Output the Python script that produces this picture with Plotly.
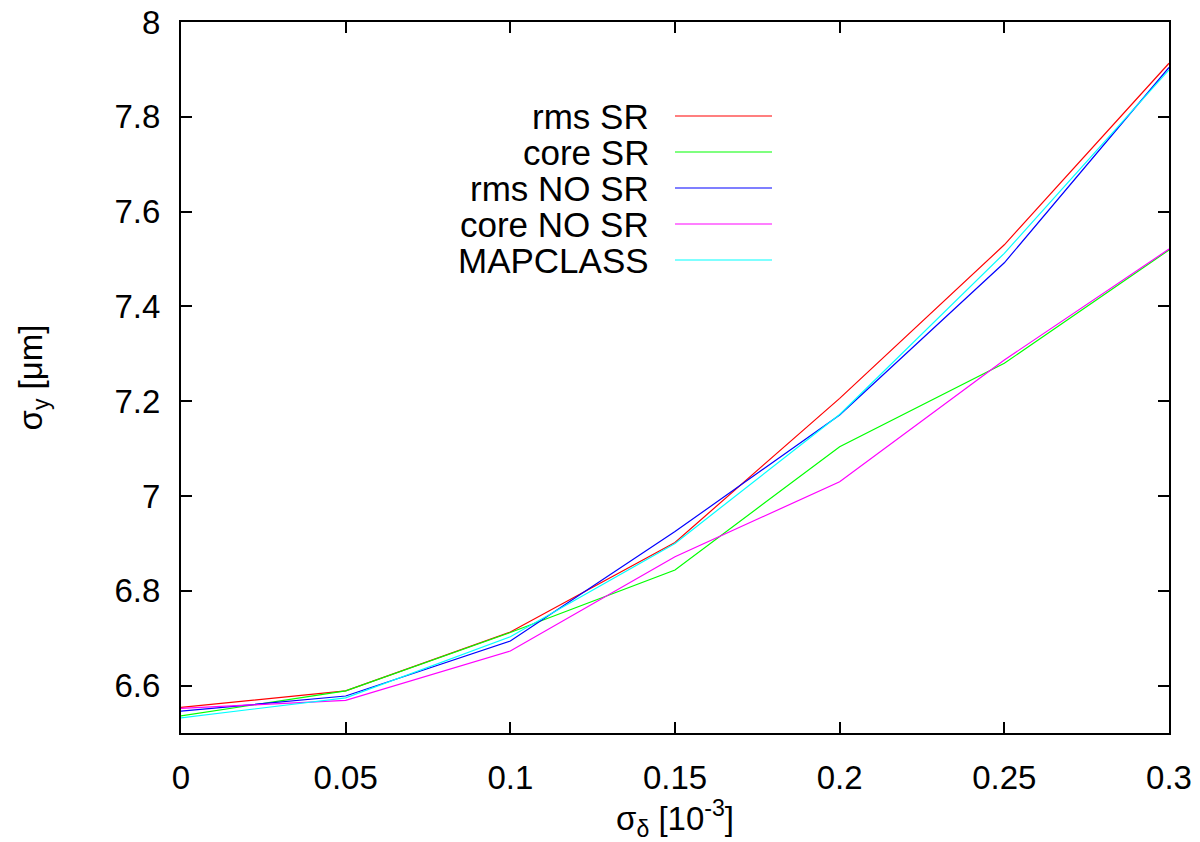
import plotly.graph_objects as go

x = [0, 0.05, 0.1, 0.15, 0.2, 0.25, 0.3]
rms_sr = [6.554, 6.589, 6.713, 6.902, 7.206, 7.530, 7.913]
core_sr = [6.536, 6.589, 6.712, 6.844, 7.104, 7.280, 7.519]
rms_nosr = [6.546, 6.578, 6.694, 6.925, 7.171, 7.492, 7.904]
core_nosr = [6.552, 6.569, 6.673, 6.872, 7.030, 7.287, 7.521]
mapclass = [6.532, 6.574, 6.703, 6.900, 7.172, 7.512, 7.899]

names = ["rms SR", "core SR", "rms NO SR", "core NO SR", "MAPCLASS"]
series = [rms_sr, core_sr, rms_nosr, core_nosr, mapclass]
colors = ["#ff0000", "#00ff00", "#0000ff", "#ff00ff", "#00ffff"]

xticks = [0, 0.05, 0.1, 0.15, 0.2, 0.25, 0.3]
xticklabels = ["0", "0.05", "0.1", "0.15", "0.2", "0.25", "0.3"]
yticks = [6.6, 6.8, 7.0, 7.2, 7.4, 7.6, 7.8, 8.0]
yticklabels = ["6.6", "6.8", "7", "7.2", "7.4", "7.6", "7.8", "8"]

FONT = "Liberation Sans, Arial, sans-serif"
fig = go.Figure()
for n, s, c in zip(names, series, colors):
    fig.add_trace(go.Scatter(x=x, y=s, mode="lines", name=n,
                             line=dict(color=c, width=1.2), showlegend=False))

# manual gnuplot-style legend (text left, sample right)
W, H = 988.0, 711.0
row0, dy = 116, 36
for i, (n, c) in enumerate(zip(names, colors)):
    py = row0 + i * dy
    yp = (733 - py) / H
    fig.add_annotation(x=(651 - 181) / W, y=yp, xref="paper", yref="paper",
                       text=n, showarrow=False, xanchor="right", yanchor="middle",
                       height=34, valign="middle",
                       font=dict(family=FONT, size=35, color="black"))
    fig.add_shape(type="line", xref="paper", yref="paper",
                  x0=(675 - 181) / W, x1=(772 - 181) / W, y0=yp, y1=yp,
                  line=dict(color=c, width=1.2))

axis_common = dict(showline=True, linecolor="black", linewidth=2, mirror="ticks",
                   ticks="inside", ticklen=11, tickwidth=1.5, tickcolor="black",
                   showgrid=False, zeroline=False,
                   tickfont=dict(family=FONT, size=33, color="black"))

fig.update_xaxes(range=[0, 0.3], tickvals=xticks, ticktext=xticklabels,
                 ticklabelstandoff=14,
                 title=dict(text="σ<sub>δ</sub> [10<sup>-3</sup>]", standoff=8,
                            font=dict(family=FONT, size=33, color="black")),
                 **axis_common)
fig.update_yaxes(range=[6.5, 8.0], tickvals=yticks, ticktext=yticklabels,
                 ticklabelstandoff=12,
                 title=dict(text="σ<sub>y</sub> [μm]", standoff=62,
                            font=dict(family=FONT, size=33, color="black")),
                 **axis_common)

fig.update_layout(width=1200, height=842, paper_bgcolor="white", plot_bgcolor="white",
                  margin=dict(l=181, r=31, t=22, b=109, autoexpand=False),
                  font=dict(family=FONT, size=33, color="black"))

fig.write_html("out.html")
